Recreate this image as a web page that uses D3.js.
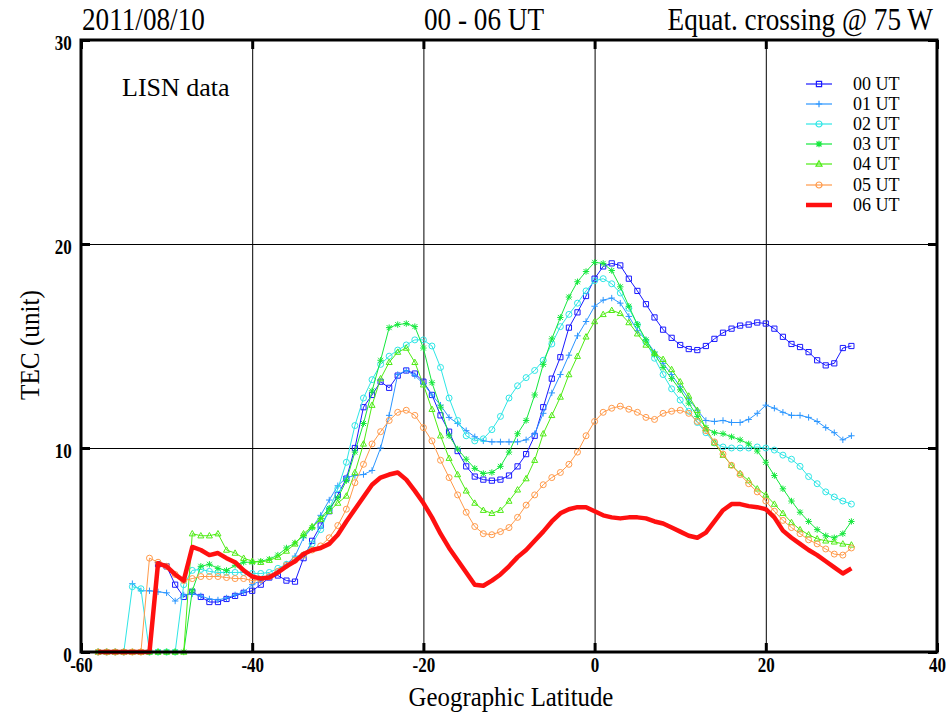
<!DOCTYPE html>
<html>
<head>
<meta charset="utf-8">
<script src="https://cdn.jsdelivr.net/npm/d3@7"></script>
<style>
  body { margin: 0; background: #fff; }
  svg { display: block; }
  text { font-family: "Liberation Serif", "Times New Roman", serif; fill: #000; }
</style>
</head>
<body>
<svg id="chart" width="949" height="713"></svg>
<script>
// geographic latitude of each sample (deg)
var lat = [
  -58, -57, -56, -55, -54, -53, -52, -51, -50, -49,
  -48, -47, -46, -45, -44, -43, -42, -41, -40, -39,
  -38, -37, -36, -35, -34, -33, -32, -31, -30, -29,
  -28, -27, -26, -25, -24, -23, -22, -21, -20, -19,
  -18, -17, -16, -15, -14, -13, -12, -11, -10, -9,
  -8, -7, -6, -5, -4, -3, -2, -1, 0, 1,
  2, 3, 4, 5, 6, 7, 8, 9, 10, 11,
  12, 13, 14, 15, 16, 17, 18, 19, 20, 21,
  22, 23, 24, 25, 26, 27, 28, 29, 30
];

// TEC per hour (null = no data)
var tec00 = [
  null, null, null, null, null, null, null, 4.3, 4.2, 3.3,
  2.7, 2.95, 2.7, 2.45, 2.45, 2.6, 2.75, 2.9, 3.0, 3.3,
  3.65, 3.75, 3.5, 3.45, 4.6, 5.45, 6.2, 6.9, 7.7, 8.5,
  10.0, 12.0, 12.6, 13.25, 12.95, 13.55, 13.8, 13.65, 13.25, 12.6,
  11.6, 10.8, 9.85, 9.1, 8.6, 8.45, 8.4, 8.45, 8.65, 9.1,
  9.7, 10.6, 12.0, 13.4, 14.45, 15.9, 16.65, 17.45, 18.3, 18.9,
  19.05, 18.95, 18.3, 17.7, 17.05, 16.4, 15.8, 15.4, 15.05, 14.85,
  14.8, 15.0, 15.35, 15.65, 15.85, 16.0, 16.05, 16.15, 16.1, 15.85,
  15.45, 15.1, 14.95, 14.7, 14.3, 14.05, 14.15, 14.9, 15.0
];
var tec01 = [
  null, null, null, null, 3.35, 3.0, 3.0, 2.95, 2.9, 2.5,
  2.8, 2.85, 2.75, 2.6, 2.55, 2.65, 2.8, 2.95, 3.3, 3.5,
  3.7, 3.9, 4.3, 4.7, 5.6, 6.1, 6.7, 7.45, 8.15, 8.55,
  8.65, 8.7, 8.9, 10.0, 11.6, 13.6, 13.8, 13.55, 13.15, 12.6,
  12.1, 11.5, 11.2, 10.85, 10.55, 10.35, 10.3, 10.3, 10.3, 10.3,
  10.4, 10.7, 11.7, 12.7, 13.6, 14.55, 15.5, 16.2, 16.95, 17.25,
  17.35, 17.1, 16.45, 15.75, 15.3, 14.7, 14.15, 13.6, 13.0, 12.4,
  11.85, 11.35, 11.3, 11.35, 11.25, 11.25, 11.4, 11.7, 12.1, 11.95,
  11.75, 11.6, 11.6, 11.5, 11.3, 11.0, 10.75, 10.4, 10.6
];
var tec02 = [
  0, 0, 0, 0, 3.2, 3.1, 0, 0, 0, 0,
  3.3, 4.0, 4.05, 3.95, 3.9, 3.9, 3.9, 3.9, 3.85, 3.85,
  3.9, 4.1, 4.3, 4.55, 4.75, 5.3, 6.0, 7.0, 8.0, 9.3,
  11.1, 12.45, 13.35, 14.1, 14.5, 14.8, 15.05, 15.3, 15.3, 15.0,
  13.95, 12.45, 11.35, 10.6, 10.35, 10.45, 10.9, 11.55, 12.45, 13.05,
  13.45, 13.8, 14.3, 15.1, 15.95, 16.55, 17.1, 17.7, 18.2, 18.3,
  18.05, 17.6, 16.85, 16.05, 15.2, 14.4, 13.6, 12.9, 12.35, 11.8,
  11.25, 10.75, 10.25, 10.05, 10.0, 10.0, 10.0, 10.05, 10.0, 9.9,
  9.65, 9.45, 9.1, 8.6, 8.25, 7.85, 7.6, 7.4, 7.25
];
var tec03 = [
  0, 0, 0, 0, 0, 0, 0, 0, 0, 0,
  0, 3.0, 4.2, 4.3, 4.1, 4.0, 4.25, 4.4, 4.4, 4.45,
  4.55, 4.75, 5.1, 5.35, 5.7, 6.1, 6.55, 7.05, 7.55, 8.4,
  9.8, 11.2, 12.8, 14.3, 15.9, 16.05, 16.1, 15.95, 14.9, 13.2,
  12.0, 10.6, 9.95, 9.45, 9.0, 8.75, 8.8, 9.1, 9.8, 10.7,
  11.35, 12.6, 14.1, 15.35, 16.4, 17.4, 18.15, 18.65, 19.1, 19.05,
  18.7, 17.9, 16.95, 16.05, 15.3, 14.6, 13.95, 13.4, 12.85, 12.2,
  11.55, 11.0, 10.75, 10.7, 10.55, 10.4, 10.2, 9.85, 9.3, 8.65,
  8.0, 7.4, 6.85, 6.4, 6.0, 5.7, 5.6, 5.8, 6.4
];
var tec04 = [
  0, 0, 0, 0, 0, 0, 0, 0, 0, 0,
  0, 5.8, 5.7, 5.7, 5.8, 5.0, 4.85, 4.6, 4.45, 4.4,
  4.5, 4.65, 4.95, 5.3, 5.8, 6.15, 6.5, 6.9, 7.3, 7.65,
  8.8, 10.2, 12.1, 13.4, 14.2, 14.7, 14.9, 14.2, 13.1, 11.9,
  10.6, 9.5, 8.7, 7.9, 7.3, 6.95, 6.8, 6.95, 7.4, 7.95,
  8.5, 9.4, 10.7, 11.6, 12.5, 13.6, 14.5, 15.45, 16.2, 16.55,
  16.75, 16.6, 16.15, 15.6, 15.05, 14.65, 14.35, 13.85, 13.25, 12.55,
  11.85, 10.95, 10.25, 9.65, 9.15, 8.75, 8.4, 8.0, 7.7, 7.25,
  6.8, 6.35, 6.0, 5.75, 5.55, 5.45, 5.4, 5.3, 5.25
];
var tec05 = [
  0, 0, 0, 0, 0, 0, 4.6, 4.4, 4.2, 3.8,
  3.5, 3.6, 3.7, 3.7, 3.7, 3.65, 3.6, 3.6, 3.5, 3.55,
  3.7, 3.95, 4.25, 4.5, 4.75, 5.0, 5.2, 5.6, 6.2, 7.0,
  8.3, 9.2, 10.2, 10.8, 11.35, 11.75, 11.85, 11.6, 11.0, 10.35,
  9.4, 8.55, 7.7, 6.85, 6.15, 5.8, 5.75, 5.9, 6.1, 6.6,
  7.2, 7.7, 8.2, 8.55, 8.8, 9.2, 9.8, 10.6, 11.3, 11.75,
  11.95, 12.05, 11.9, 11.75, 11.5, 11.4, 11.7, 11.8, 11.85, 11.7,
  11.3, 10.85, 10.3, 9.7, 9.15, 8.7, 8.25, 7.85, 7.4, 6.9,
  6.45, 6.1, 5.8, 5.5, 5.3, 5.05, 4.8, 4.75, 5.1
];
var tec06 = [
  0, 0, 0, 0, 0, 0, 0, 4.35, 4.2, 3.8,
  3.5, 5.15, 5.0, 4.75, 4.85, 4.6, 4.4, 4.0, 3.7, 3.6,
  3.65, 3.9, 4.2, 4.45, 4.8, 5.0, 5.1, 5.3, 5.75, 6.4,
  7.0, 7.6, 8.2, 8.55, 8.7, 8.8, 8.45, 7.9, 7.3, 6.6,
  5.8, 5.1, 4.5, 3.9, 3.3, 3.25, 3.5, 3.8, 4.2, 4.65,
  5.0, 5.45, 5.9, 6.4, 6.8, 7.0, 7.1, 7.1, 6.9, 6.7,
  6.6, 6.55, 6.6, 6.6, 6.55, 6.4, 6.3, 6.1, 5.9, 5.7,
  5.6, 5.85, 6.4, 6.95, 7.25, 7.25, 7.15, 7.1, 7.0, 6.6,
  5.95, 5.6, 5.3, 5.0, 4.75, 4.45, 4.15, 3.85, 4.1
];

var names = ['00 UT', '01 UT', '02 UT', '03 UT', '04 UT', '05 UT', '06 UT'];
var colors = ['#1a1aff', '#2b96ff', '#2ee6e6', '#14e83c', '#4eec14', '#ff9a4a', '#ff1010'];
var marks = ['square', 'plus', 'circle', 'star', 'triangle', 'circle', 'none'];
var allTec = [tec00, tec01, tec02, tec03, tec04, tec05, tec06];

var xTicks = [-60, -40, -20, 0, 20, 40];
var yTicks = [0, 10, 20, 30];

var svg = d3.select('#chart');

var x = d3.scaleLinear().domain([-60, 40]).range([81, 937]);
var y = d3.scaleLinear().domain([0, 30]).range([652, 40]);

var left = x.range()[0], right = x.range()[1];
var top_ = y.range()[1], bottom = y.range()[0];

// grid
svg.append('g')
  .attr('transform', 'translate(0,' + bottom + ')')
  .call(d3.axisBottom(x).tickValues(xTicks.slice(1, -1)).tickSize(-(bottom - top_)).tickFormat(''))
  .call(function(g) { g.select('.domain').remove(); })
  .selectAll('line').attr('stroke', '#000').attr('stroke-width', 1);
svg.append('g')
  .attr('transform', 'translate(' + left + ',0)')
  .call(d3.axisLeft(y).tickValues(yTicks.slice(1, -1)).tickSize(-(right - left)).tickFormat(''))
  .call(function(g) { g.select('.domain').remove(); })
  .selectAll('line').attr('stroke', '#000').attr('stroke-width', 1);

// series
var line = d3.line()
  .defined(function(d) { return d[1] != null; })
  .x(function(d) { return x(d[0]); })
  .y(function(d) { return y(d[1]); });

function markPath(type) {
  if (type === 'square') return 'M-2.6,-2.6H2.6V2.6H-2.6Z';
  if (type === 'plus') return 'M-3.2,0H3.2M0,-3.2V3.2';
  if (type === 'circle') return 'M3,0A3,3 0 1,1 -3,0A3,3 0 1,1 3,0Z';
  if (type === 'star') return 'M-3.2,0H3.2M0,-3.2V3.2M-2.5,-2.5L2.5,2.5M-2.5,2.5L2.5,-2.5';
  if (type === 'triangle') return 'M0,-3.2L3,2.2H-3Z';
  return '';
}

allTec.forEach(function(vals, i) {
  var pts = lat.map(function(l, k) { return [l, vals[k]]; });
  var g = svg.append('g');
  g.append('path')
    .datum(pts)
    .attr('fill', 'none')
    .attr('stroke', colors[i])
    .attr('stroke-width', marks[i] === 'none' ? 4.5 : 1)
    .attr('stroke-linejoin', 'round')
    .attr('d', line);
  if (marks[i] !== 'none') {
    g.selectAll('path.mk')
      .data(pts.filter(function(d) { return d[1] != null; }))
      .enter()
      .append('path')
        .attr('class', 'mk')
        .attr('transform', function(d) { return 'translate(' + x(d[0]) + ',' + y(d[1]) + ')'; })
        .attr('d', markPath(marks[i]))
        .attr('fill', 'none')
        .attr('stroke', colors[i])
        .attr('stroke-width', 1);
  }
});

// frame and thick ticks
svg.append('rect')
  .attr('x', left).attr('y', top_)
  .attr('width', right - left).attr('height', bottom - top_)
  .attr('fill', 'none').attr('stroke', '#000').attr('stroke-width', 3);

function thickTicks(axis, tr) {
  svg.append('g')
    .attr('transform', tr)
    .call(axis.tickSize(-9).tickFormat(''))
    .call(function(g) { g.select('.domain').remove(); })
    .selectAll('line').attr('stroke', '#000').attr('stroke-width', 3);
}
thickTicks(d3.axisBottom(x).tickValues(xTicks), 'translate(0,' + bottom + ')');
thickTicks(d3.axisTop(x).tickValues(xTicks), 'translate(0,' + top_ + ')');
thickTicks(d3.axisLeft(y).tickValues(yTicks), 'translate(' + left + ',0)');
thickTicks(d3.axisRight(y).tickValues(yTicks), 'translate(' + right + ',0)');

// tick labels
svg.append('g')
  .attr('transform', 'translate(0,' + bottom + ')')
  .call(d3.axisBottom(x).tickValues(xTicks).tickSize(0).tickPadding(6).tickFormat(function(d) { return String(d); }))
  .call(function(g) { g.select('.domain').remove(); })
  .selectAll('text')
    .attr('font-size', 20).attr('font-weight', 'bold')
    .attr('font-family', '"Liberation Serif", serif')
    .attr('transform', 'scale(0.85,1)');
svg.append('g')
  .attr('transform', 'translate(' + left + ',0)')
  .call(d3.axisLeft(y).tickValues(yTicks).tickSize(0).tickPadding(11).tickFormat(function(d) { return String(d); }))
  .call(function(g) { g.select('.domain').remove(); })
  .selectAll('text')
    .attr('font-size', 20).attr('font-weight', 'bold')
    .attr('font-family', '"Liberation Serif", serif')
    .attr('dy', '0.45em')
    .attr('transform', 'scale(0.85,1)');

// titles
function label(txt, px, py, size, sx, anchor, rot, weight) {
  svg.append('text')
    .attr('transform', 'translate(' + px + ',' + py + ')' + (rot ? ' rotate(' + rot + ')' : '') + ' scale(' + sx + ',1)')
    .attr('text-anchor', anchor)
    .attr('font-size', size)
    .attr('font-weight', weight || 'normal')
    .text(txt);
}
label('2011/08/10', 82, 30, 32, 0.85, 'start');
label('00 - 06 UT', 484, 30, 32, 0.85, 'middle');
label('Equat. crossing @ 75 W', 933, 30, 32, 0.85, 'end');
label('Geographic Latitude', 511, 706, 27, 0.92, 'middle');
label('TEC (unit)', 39, 345, 28, 0.9, 'middle', -90);
label('LISN data', 122, 96, 26, 1, 'start');

// legend
var legY = [84, 104, 124, 144, 164, 185, 205];
names.forEach(function(n, i) {
  var g = svg.append('g').attr('transform', 'translate(0,' + legY[i] + ')');
  g.append('line')
    .attr('x1', 806).attr('x2', 832)
    .attr('stroke', colors[i])
    .attr('stroke-width', marks[i] === 'none' ? 4.5 : 1.2);
  if (marks[i] !== 'none') {
    g.append('path')
      .attr('transform', 'translate(819,0)')
      .attr('d', markPath(marks[i]))
      .attr('fill', 'none').attr('stroke', colors[i]).attr('stroke-width', 1.2);
  }
  g.append('text')
    .attr('x', 853).attr('y', 6)
    .attr('font-size', 18)
    .text(n);
});
</script>
</body>
</html>
